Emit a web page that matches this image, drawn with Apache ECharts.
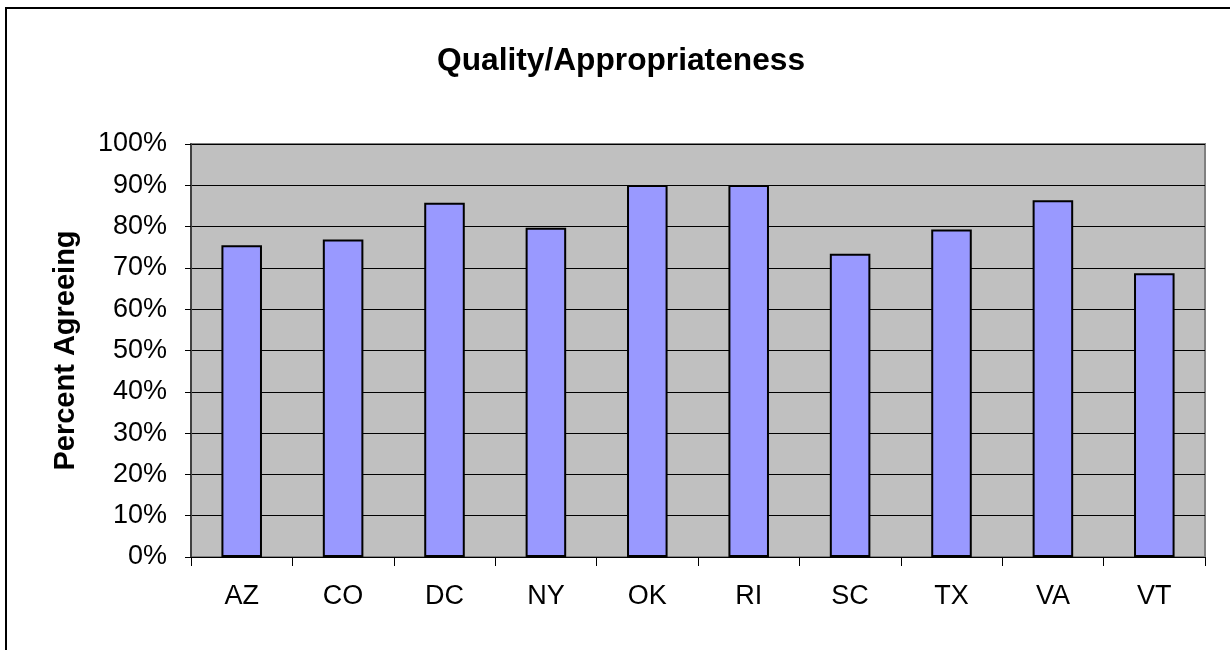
<!DOCTYPE html>
<html>
<head>
<meta charset="utf-8">
<script src="https://cdn.jsdelivr.net/npm/echarts@6/dist/echarts.min.js"></script>
<style>
html,body{margin:0;padding:0;background:#fff;}
#chart{width:1230px;height:650px;}
</style>
</head>
<body>
<div id="chart"></div>
<script>
var titleText = 'Quality/Appropriateness';
var yAxisTitle = 'Percent Agreeing';
var categories = ['AZ','CO','DC','NY','OK','RI','SC','TX','VA','VT'];
var values = [75.5, 76.9, 85.8, 79.7, 90.1, 90.1, 73.4, 79.3, 86.4, 68.7];

var chart = echarts.init(document.getElementById('chart'), null, {renderer:'canvas'});
var font = 'Liberation Sans, Arial, sans-serif';
chart.setOption({
  animation: false,
  backgroundColor: '#ffffff',
  title: {
    text: titleText,
    left: 432,
    top: 40,
    textStyle: {fontFamily: font, fontSize: 31.7, fontWeight: 'bold', color: '#000'}
  },
  graphic: [{
    type: 'rect',
    shape: {x: 6, y: 8, width: 1300, height: 700},
    style: {fill: 'none', stroke: '#000', lineWidth: 2},
    silent: true
  }],
  grid: {
    left: 191, right: 25, top: 144, bottom: 93,
    show: true,
    backgroundColor: '#C0C0C0',
    borderColor: '#808080',
    borderWidth: 2
  },
  xAxis: {
    type: 'category',
    data: categories,
    axisLine: {show: true, lineStyle: {color: '#000', width: 1}},
    axisTick: {show: true, length: 9, lineStyle: {color: '#000'}},
    axisLabel: {margin: 26, fontFamily: font, fontSize: 27, color: '#000'}
  },
  yAxis: {
    type: 'value',
    min: 0, max: 100, interval: 10,
    name: yAxisTitle,
    nameLocation: 'middle',
    nameGap: 111,
    nameRotate: 90,
    nameTextStyle: {fontFamily: font, fontSize: 29, fontWeight: 'bold', color: '#000'},
    axisLine: {show: true, lineStyle: {color: '#404040', width: 2}},
    axisTick: {show: true, length: 6, lineStyle: {color: '#000'}},
    axisLabel: {margin: 24, fontFamily: font, fontSize: 27, color: '#000',
      formatter: function(v){ return v + '%'; }},
    splitLine: {show: true, lineStyle: {color: '#000', width: 1}}
  },
  series: [{
    type: 'bar',
    data: values,
    barWidth: '40%',
    itemStyle: {color: '#9999FF', borderColor: '#000', borderWidth: 2}
  }]
});
</script>
</body>
</html>
